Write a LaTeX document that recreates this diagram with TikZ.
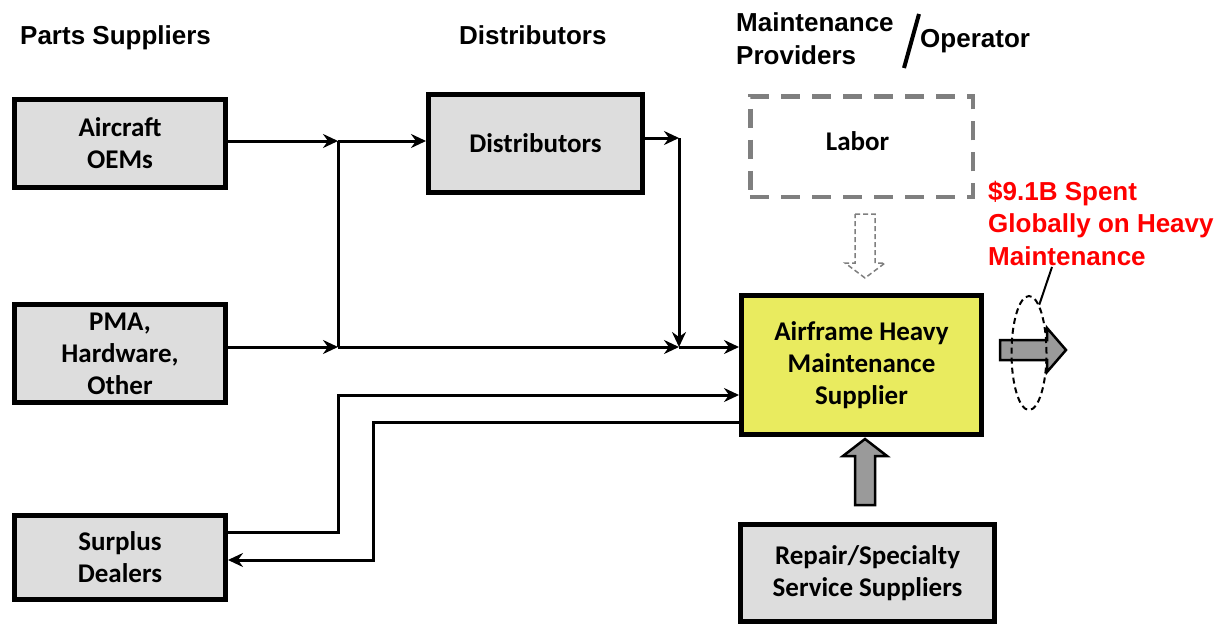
\documentclass[tikz,border=0pt]{standalone}
\usepackage{fontspec}
\setmainfont{Carlito}
\newfontfamily\headfont{Liberation Sans}
\usetikzlibrary{arrows.meta,shapes.geometric}
\definecolor{boxgray}{HTML}{DDDDDD}
\definecolor{hmyellow}{HTML}{E9EB5F}
\definecolor{blockgray}{HTML}{9A9A9A}
\definecolor{dashgray}{HTML}{7F7F7F}
\definecolor{figred}{HTML}{FF0000}
\tikzset{
  box/.style={draw=black, line width=5pt, fill=boxgray, align=center, inner sep=0pt,
    font=\bfseries\fontsize{27}{32}\selectfont},
  head/.style={font=\headfont\bfseries\fontsize{26}{32}\selectfont, inner sep=0pt, align=left},
  flow/.style={line width=3pt, -{Stealth[length=15pt,width=14pt,inset=5pt]}},
  plain/.style={line width=3pt},
  block/.style={draw=black, line width=2.5pt, fill=blockgray, line join=miter},
}
\begin{document}
\begin{tikzpicture}[x=1pt,y=-1pt]
\useasboundingbox (0,0) rectangle (1224,626);

% column headings (base anchor of a multi-line node sits on its last line)
\node[head, anchor=base west] (hparts) at (20,45) {Parts Suppliers};
\node[head, anchor=base west] (hdist) at (459,45) {Distributors};
\node[head, anchor=base west] (hmaint) at (736,65) {Maintenance\\[1pt]Providers};
\node[head, anchor=base west] (hoper) at (920,48) {Operator};
\coordinate (slashtop) at (919,14);
\coordinate (slashbot) at (904,68);
\draw[line width=4pt] (slashtop) -- (slashbot);

% boxes
\node[box, minimum width=211pt, minimum height=88pt] (aoem) at (120,143.5) {Aircraft\\OEMs};
\node[box, minimum width=211pt, minimum height=98pt] (pma) at (120,353.5) {PMA,\\Hardware,\\Other};
\node[box, minimum width=211pt, minimum height=84pt] (surplus) at (120,557.5) {Surplus\\Dealers};
\node[box, minimum width=214pt, minimum height=98pt] (dist) at (535.5,143.5) {Distributors};
\node[box, fill=white, draw=dashgray, line width=4.5pt, dash pattern=on 19pt off 12pt,
      minimum width=222.5pt, minimum height=100.5pt, text height=18pt, text depth=10pt]
      (labor) at (861.5,146.5) {Labor\hspace*{8pt}};
\node[box, fill=hmyellow, minimum width=240pt, minimum height=139pt] (hm) at (861.5,365)
  {Airframe Heavy\\Maintenance\\Supplier};
\node[box, minimum width=254pt, minimum height=97pt] (repair) at (867.5,573)
  {Repair/Specialty\\Service Suppliers};

% junction points
\coordinate (j1) at (338,141);
\coordinate (j2) at (338,347);
\coordinate (j3) at (679,347);
\coordinate (j4) at (679,138);
\coordinate (s1) at (338,395);
\coordinate (s2) at (373,422);

% parts flows
\draw[flow] (aoem.east |- j1) -- (j1);
\draw[flow] (j1) -- (j1 -| dist.west);
\draw[plain] (j1) -- (j2);
\draw[flow] (pma.east |- j2) -- (j2);
\draw[flow] (j2) -- (j3);
\draw[flow] (dist.east |- j4) -- (j4);
\draw[flow] (j4) -- (j3);
\draw[flow] (j3) -- (j3 -| hm.west);

% surplus flows
\draw[flow] (surplus.east |- 0,532) -| (s1) -- (s1 -| hm.west);
\draw[flow] (s2 -| hm.west) -- (s2) |- (surplus.east |- 0,560);

% labor input (hollow dashed arrow)
\draw[draw=dashgray, line width=1.5pt, dash pattern=on 5pt off 3pt, fill=white]
  (855,214) -- (875,214) -- (875,263) -- (885,263) -- (865,278) -- (845,263)
  -- (855,263) -- cycle;

% repair/specialty input
\draw[block] (855,505) -- (875,505) -- (875,456) -- (887,456) -- (865,439)
  -- (843,456) -- (855,456) -- cycle;

% output arrow
\draw[block] (1000,340) -- (1047,340) -- (1047,328) -- (1066,350) -- (1047,372)
  -- (1047,360) -- (1000,360) -- cycle;

% spend callout
\node[ellipse, draw=black, line width=2pt, dash pattern=on 6pt off 4pt,
      minimum width=35pt, minimum height=114pt, inner sep=0pt] (ring) at (1029,353) {};
\node[head, text=figred, anchor=base west] (spend) at (988,265)
  {\$9.1B Spent\\[0.5pt]Globally on Heavy\\[0.5pt]Maintenance};
\coordinate (tail) at (1052,267);
\draw[line width=2pt] (tail) -- (ring.78);
\end{tikzpicture}
\end{document}
